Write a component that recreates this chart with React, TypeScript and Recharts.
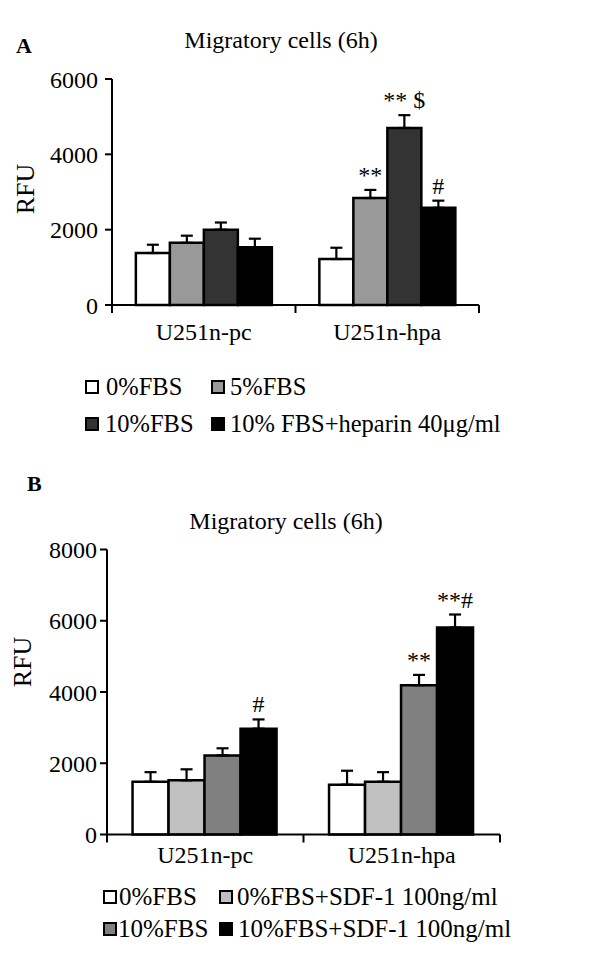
import React from 'react';
import { BarChart, Bar, XAxis, YAxis, ErrorBar, LabelList } from 'recharts';

const FONT = '"Liberation Serif", "Times New Roman", Times, serif';

// ---------- Panel A data ----------
const categoriesA = ['U251n-pc', 'U251n-hpa'];
const seriesNamesA = ['0%FBS', '5%FBS', '10%FBS', '10% FBS+heparin 40μg/ml'];
const seriesColorsA = ['#ffffff', '#999999', '#333333', '#000000'];
const valuesA = [
  [1380, 1220],
  [1650, 2840],
  [2000, 4700],
  [1530, 2580],
];
const errorsA = [
  [220, 300],
  [190, 215],
  [190, 340],
  [230, 190],
];
const annotationsA = [
  ['', ''],
  ['', '**'],
  ['', '** $'],
  ['', '#'],
];
const ticksA = [0, 2000, 4000, 6000];
const titleA = 'Migratory cells (6h)';

// ---------- Panel B data ----------
const categoriesB = ['U251n-pc', 'U251n-hpa'];
const seriesNamesB = ['0%FBS', '0%FBS+SDF-1 100ng/ml', '10%FBS', '10%FBS+SDF-1 100ng/ml'];
const seriesColorsB = ['#ffffff', '#c0c0c0', '#808080', '#000000'];
const valuesB = [
  [1480, 1400],
  [1520, 1480],
  [2220, 4190],
  [2970, 5810],
];
const errorsB = [
  [270, 390],
  [310, 270],
  [200, 290],
  [260, 365],
];
const annotationsB = [
  ['', ''],
  ['', ''],
  ['', '**'],
  ['#', '**#'],
];
const ticksB = [0, 2000, 4000, 6000, 8000];
const titleB = 'Migratory cells (6h)';
const yLabel = 'RFU';

function buildData(categories: string[], values: number[][], errors: number[][], annotations: string[][]) {
  return categories.map((cat, i) => {
    const row: any = { cat, pos: i + 0.5 };
    values.forEach((vals, s) => {
      row[`v${s}`] = vals[i];
      row[`e${s}`] = [0, errors[s][i]];
      row[`err${s}`] = errors[s][i];
      row[`a${s}`] = annotations[s][i];
    });
    return row;
  });
}

function boundaryTicks(n: number) {
  const t: number[] = [];
  for (let i = 0; i <= n; i++) {
    t.push(i);
    if (i < n) t.push(i + 0.5);
  }
  return t;
}

const makeXTick = (categories: string[], labelDy: number) => (props: any) => {
  const { x, y, payload } = props;
  const v = payload.value;
  if (Number.isInteger(v)) {
    return <line x1={x} x2={x} y1={y} y2={y + 8} stroke="#000" strokeWidth={2} />;
  }
  const idx = Math.floor(v);
  return (
    <text x={x} y={y + labelDy} textAnchor="middle" fontFamily={FONT} fontSize={24} fill="#000">
      {categories[idx]}
    </text>
  );
};

const makeAnnot = (data: any[], s: number) => (props: any) => {
  const vb = props.viewBox || props;
  const x = vb.x ?? props.x;
  const y = vb.y ?? props.y;
  const width = vb.width ?? props.width;
  const height = vb.height ?? props.height;
  const index = props.index;
  const value = props.value;
  if (!value || index == null) return <g />;
  const row = data[index];
  const pxPerUnit = height / row[`v${s}`];
  const top = y - row[`err${s}`] * pxPerUnit;
  return (
    <text x={x + width / 2} y={top - 7} textAnchor="middle" fontFamily={FONT} fontSize={24} fill="#000">
      {value}
    </text>
  );
};

interface PanelProps {
  categories: string[];
  colors: string[];
  values: number[][];
  errors: number[][];
  annotations: string[][];
  ticks: number[];
  width: number;
  height: number;
  margin: any;
  labelDy: number;
  tickMargin: number;
}

function Panel(p: PanelProps) {
  const data = buildData(p.categories, p.values, p.errors, p.annotations);
  const maxT = p.ticks[p.ticks.length - 1];
  return (
    <BarChart
      width={p.width}
      height={p.height}
      data={data}
      margin={p.margin}
      barCategoryGap="13%"
      barGap={0}
    >
      <XAxis xAxisId="cat" dataKey="cat" hide height={0} />
      <XAxis
        xAxisId="num"
        dataKey="pos"
        type="number"
        domain={[0, p.categories.length]}
        ticks={boundaryTicks(p.categories.length)}
        interval={0}
        allowDataOverflow
        tick={makeXTick(p.categories, p.labelDy)}
        tickLine={false}
        tickSize={0}
        tickMargin={0}
        axisLine={{ stroke: '#000', strokeWidth: 2 }}
        height={30}
      />
      <YAxis
        domain={[0, maxT]}
        ticks={p.ticks}
        interval={0}
        width={60}
        tickSize={7}
        tickMargin={p.tickMargin}
        axisLine={{ stroke: '#000', strokeWidth: 2 }}
        tickLine={{ stroke: '#000', strokeWidth: 2 }}
        tick={{ fill: '#000', fontSize: 24, fontFamily: FONT }}
      />
      {p.values.map((_, s) => (
        <Bar
          key={s}
          xAxisId="cat"
          dataKey={`v${s}`}
          fill={p.colors[s]}
          stroke="#000"
          strokeWidth={2.5}
          isAnimationActive={false}
        >
          <ErrorBar dataKey={`e${s}`} width={6} strokeWidth={2.2} stroke="#000" direction="y" />
          <LabelList dataKey={`a${s}`} content={makeAnnot(data, s)} />
        </Bar>
      ))}
    </BarChart>
  );
}

function Legend({ names, colors, xs, textXs, baselines, fontSize }: any) {
  return (
    <g>
      {names.map((n: string, i: number) => {
        const col = i % 2;
        const row = Math.floor(i / 2);
        const b = baselines[row];
        return (
          <g key={i}>
            <rect x={xs[row][col]} y={b - 14} width={12} height={12} fill={colors[i]} stroke="#000" strokeWidth={2} />
            <text x={textXs[row][col]} y={b} fontFamily={FONT} fontSize={fontSize} fill="#000">
              {n}
            </text>
          </g>
        );
      })}
    </g>
  );
}

export default function App() {
  return (
    <div style={{ position: 'absolute', left: 0, top: 0, width: 600, height: 961, background: '#fff', overflow: 'hidden' }}>
      <div style={{ position: 'absolute', left: 0, top: 0 }}>
        <Panel
          categories={categoriesA}
          colors={seriesColorsA}
          values={valuesA}
          errors={errorsA}
          annotations={annotationsA}
          ticks={ticksA}
          width={600}
          height={360}
          margin={{ top: 79, right: 121, bottom: 25, left: 52 }}
          labelDy={35}
          tickMargin={7}
        />
      </div>
      <div style={{ position: 'absolute', left: 0, top: 480 }}>
        <Panel
          categories={categoriesB}
          colors={seriesColorsB}
          values={valuesB}
          errors={errorsB}
          annotations={annotationsB}
          ticks={ticksB}
          width={600}
          height={400}
          margin={{ top: 69.5, right: 100, bottom: 15.5, left: 47 }}
          labelDy={28}
          tickMargin={3}
        />
      </div>
      <svg width={600} height={961} style={{ position: 'absolute', left: 0, top: 0, pointerEvents: 'none' }}>
        <text x={16} y={53} fontFamily={FONT} fontSize={22} fontWeight="bold" fill="#000">A</text>
        <text x={281} y={48} textAnchor="middle" fontFamily={FONT} fontSize={24} fill="#000">{titleA}</text>
        <text transform="translate(25,189) rotate(-90)" textAnchor="middle" dominantBaseline="central" fontFamily={FONT} fontSize={26} fill="#000">{yLabel}</text>
        <Legend
          names={seriesNamesA}
          colors={seriesColorsA}
          xs={[[86, 212], [86, 212]]}
          textXs={[[106, 230], [105, 230]]}
          baselines={[395, 432]}
          fontSize={24.5}
        />
        <text x={27} y={491} fontFamily={FONT} fontSize={22} fontWeight="bold" fill="#000">B</text>
        <text x={286} y={529} textAnchor="middle" fontFamily={FONT} fontSize={24} fill="#000">{titleB}</text>
        <text transform="translate(22,662) rotate(-90)" textAnchor="middle" dominantBaseline="central" fontFamily={FONT} fontSize={26} fill="#000">{yLabel}</text>
        <Legend
          names={seriesNamesB}
          colors={seriesColorsB}
          xs={[[104, 220], [104, 220]]}
          textXs={[[119, 237], [118, 238]]}
          baselines={[905, 937]}
          fontSize={25}
        />
      </svg>
    </div>
  );
}
